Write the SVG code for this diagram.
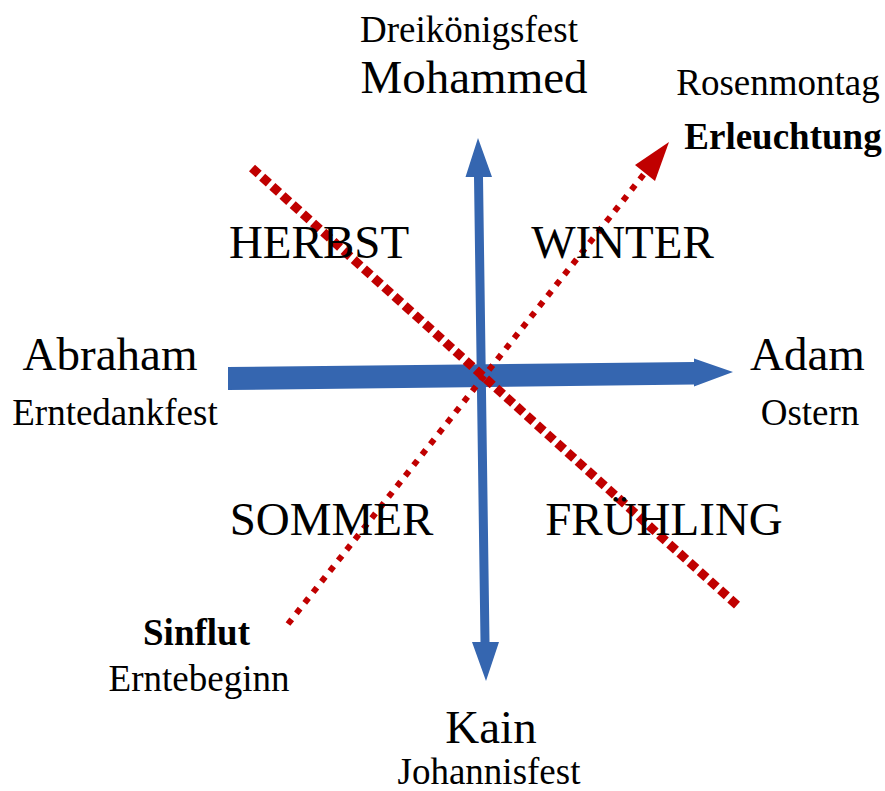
<svg xmlns="http://www.w3.org/2000/svg" width="885" height="791" viewBox="0 0 885 791">
<style>
text { font-family: "Liberation Serif", "Times New Roman", serif; fill: #000; text-anchor: middle; }
.big { font-size: 47px; }
.small { font-size: 37px; }
.bold { font-weight: bold; }
.blue { fill: #3566B0; }
.red { fill: #C00000; }
.thick-dash { fill: none; stroke: #C00000; stroke-width: 9; stroke-dasharray: 9 4.7; }
.dot { fill: none; stroke: #C00000; stroke-width: 6; stroke-dasharray: 6 7.5; }
</style>
<rect width="885" height="791" fill="#fff"/>
<g id="connectors">
  <polygon class="blue" points="228,367 694,362 694,358.5 733,372 694,386.5 694,384.5 228,390"/>
  <polygon class="blue" points="478,138 492,177 483,177 489.5,642 499,642 486,681 472,642 480.5,642 474,177 465.5,177"/>
  <line class="thick-dash" x1="252" y1="168" x2="738" y2="606"/>
  <line class="dot" x1="288" y1="624" x2="648" y2="169"/>
  <polygon class="red" points="669,142 655,181 635,165"/>
</g>
<g id="node-mohammed">
  <text class="small" x="469" y="42">Dreikönigsfest</text>
  <text class="big" x="474" y="93">Mohammed</text>
</g>
<g id="node-erleuchtung">
  <text class="small" x="778" y="95">Rosenmontag</text>
  <text class="small bold" x="783" y="149">Erleuchtung</text>
</g>
<g id="node-herbst"><text class="big" x="319" y="258">HERBST</text></g>
<g id="node-winter"><text class="big" x="622.5" y="258">WINTER</text></g>
<g id="node-abraham">
  <text class="big" x="110" y="370">Abraham</text>
  <text class="small" x="115" y="425">Erntedankfest</text>
</g>
<g id="node-adam">
  <text class="big" x="807.5" y="370">Adam</text>
  <text class="small" x="810" y="425">Ostern</text>
</g>
<g id="node-sommer"><text class="big" x="331.5" y="535">SOMMER</text></g>
<g id="node-fruehling"><text class="big" x="664" y="535">FRÜHLING</text></g>
<g id="node-sinflut">
  <text class="small bold" x="196.5" y="645">Sinflut</text>
  <text class="small" x="199" y="691">Erntebeginn</text>
</g>
<g id="node-kain">
  <text class="big" x="491" y="743">Kain</text>
  <text class="small" x="489" y="784">Johannisfest</text>
</g>
</svg>
